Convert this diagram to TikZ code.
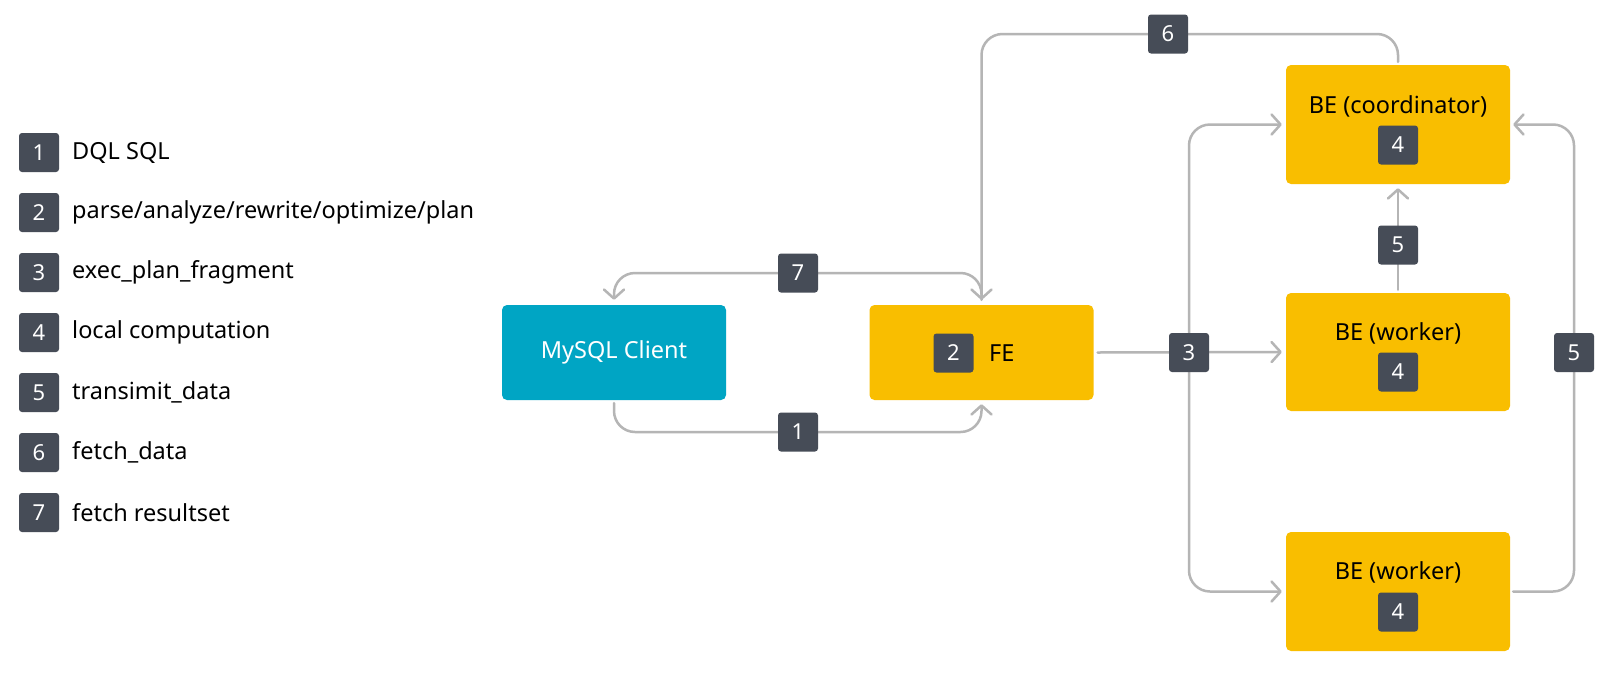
\documentclass[tikz,border=0pt]{standalone}
\usepackage{fontspec}
\setmainfont{Noto Sans}
\usetikzlibrary{arrows.meta}
\definecolor{badgec}{HTML}{464C57}
\definecolor{yel}{HTML}{F9BE00}
\definecolor{tealc}{HTML}{00A5C4}
\definecolor{linec}{HTML}{B5B5B5}
\begin{document}
\begin{tikzpicture}[x=1pt,y=-1pt,
  badge/.style={fill=badgec,rounded corners=3pt,minimum width=40pt,minimum height=39pt,inner sep=0pt,text=white,font=\fontsize{22}{24}\selectfont},
  box/.style={rounded corners=5pt,minimum width=224pt,inner sep=0pt},
  ybox/.style={box,fill=yel},
  boxtext/.style={inner sep=0pt,font=\fontsize{23.5}{26}\selectfont},
  legtext/.style={anchor=west,inner sep=0pt,font=\fontsize{23.5}{26}\selectfont},
  conn/.style={draw=linec,line width=2.5pt,rounded corners=21pt,line cap=round},
  arr/.style={-{Straight Barb[length=9pt,width=20pt,round]}}
]
\useasboundingbox[fill=white] (0,0) rectangle (1600,683);
% legend
\foreach \i/\t in {1/DQL SQL,2/parse\slash analyze\slash rewrite\slash optimize\slash plan,3/exec\_plan\_fragment,4/local computation,5/transimit\_data,6/fetch\_data,7/fetch resultset}{
  \node[badge] (lb\i) at (39,{152.5+60*(\i-1)}) {\i};
  \node[legtext] (lt\i) at (72,{152.5+60*(\i-1)}) {\t};
}
% boxes
\node[box,fill=tealc,minimum height=95pt,text=white,font=\fontsize{23.5}{26}\selectfont] (client) at (614,352.5) {MySQL Client};
\node[ybox,minimum height=95pt] (fe) at (981.5,352.5) {};
\node[ybox,minimum height=119pt] (coord) at (1398,124.5) {};
\node[ybox,minimum height=118pt] (w1) at (1398,352) {};
\node[ybox,minimum height=119pt] (w2) at (1398,591.5) {};
% badge positions
\coordinate (p1) at (798,432);
\coordinate (p7) at (798,273);
\coordinate (p6) at (1168,34);
\coordinate (p3) at (1189,352.5);
\coordinate (p5m) at (1398,245);
\coordinate (p5r) at (1574,352.5);
% connectors
\draw[conn,arr] ([yshift=-3pt]client.south) |- (p1) -| ([yshift=-4pt]fe.south);
\draw[conn,arr] ([yshift=5pt]fe.north) |- (p7) -| ([yshift=5pt]client.north);
\draw[conn,arr] ([yshift=3pt]coord.north) |- (p6) -| ([yshift=5pt]fe.north);
\draw[conn,arr] ([xshift=4pt]fe.east) -- ([xshift=-4pt]w1.west);
\draw[conn,arr] (p3) |- ([xshift=-4pt]coord.west);
\draw[conn,arr] (p3) |- ([xshift=-4pt]w2.west);
\draw[conn,arr] ([yshift=3pt]w1.north) -- ([yshift=-4pt]coord.south);
\draw[conn,arr] ([xshift=3pt]w2.east) -| (p5r) |- ([xshift=3pt]coord.east);
% badges on connectors
\node[badge] (b1) at (p1) {1};
\node[badge] (b7) at (p7) {7};
\node[badge] (b6) at (p6) {6};
\node[badge] (b3) at (p3) {3};
\node[badge] (b5m) at (p5m) {5};
\node[badge] (b5r) at (p5r) {5};
% box contents
\node[badge] (fe2) at (953.5,353) {2};
\node[boxtext,anchor=west] (fel) at (989,353) {FE};
\node[boxtext] (ct) at (1398,106) {BE (coordinator)};
\node[badge] (c4) at (1398,145) {4};
\node[boxtext] (w1t) at (1398,333) {BE (worker)};
\node[badge] (w14) at (1398,372) {4};
\node[boxtext] (w2t) at (1398,572) {BE (worker)};
\node[badge] (w24) at (1398,612) {4};
\end{tikzpicture}
\end{document}
